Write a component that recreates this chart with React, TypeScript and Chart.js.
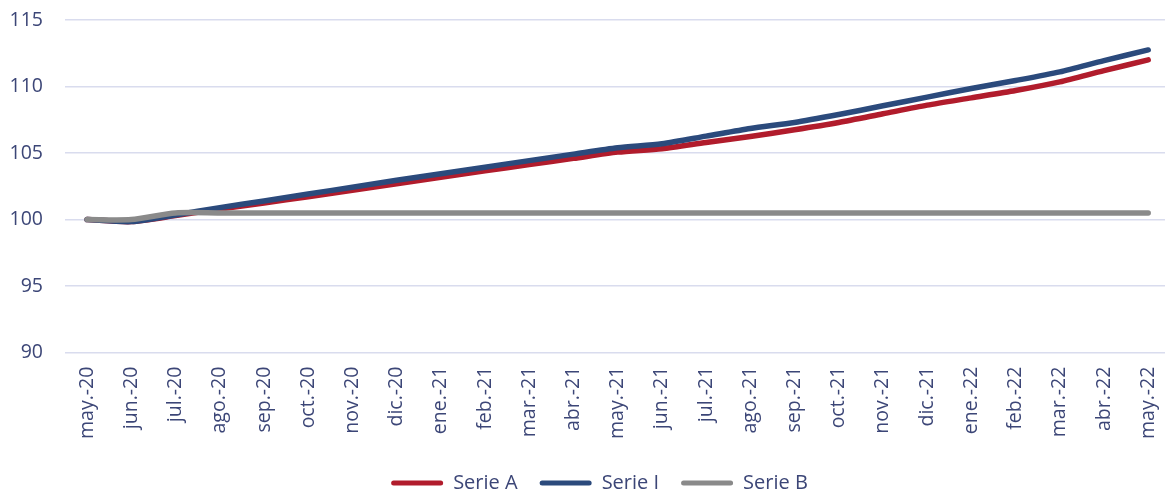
import { useEffect, useRef } from 'react';
import { Chart, registerables } from 'chart.js';

Chart.register(...registerables);

const labels = [
  'may.-20', 'jun.-20', 'jul.-20', 'ago.-20', 'sep.-20', 'oct.-20', 'nov.-20', 'dic.-20',
  'ene.-21', 'feb.-21', 'mar.-21', 'abr.-21', 'may.-21', 'jun.-21', 'jul.-21', 'ago.-21',
  'sep.-21', 'oct.-21', 'nov.-21', 'dic.-21', 'ene.-22', 'feb.-22', 'mar.-22', 'abr.-22', 'may.-22',
];

const serieA = [
  100, 99.85, 100.3, 100.8, 101.25, 101.72, 102.2, 102.7, 103.18, 103.66, 104.14, 104.6, 105.07,
  105.33, 105.8, 106.25, 106.75, 107.3, 107.95, 108.6, 109.15, 109.7, 110.35, 111.2, 112.0,
];

const serieI = [
  100, 99.85, 100.35, 100.9, 101.4, 101.92, 102.43, 102.95, 103.45, 103.94, 104.43, 104.92, 105.4,
  105.7, 106.27, 106.85, 107.3, 107.9, 108.55, 109.2, 109.85, 110.45, 111.1, 111.95, 112.75,
];

const serieB = [
  100, 100, 100.5, 100.5, 100.5, 100.5, 100.5, 100.5, 100.5, 100.5, 100.5, 100.5, 100.5,
  100.5, 100.5, 100.5, 100.5, 100.5, 100.5, 100.5, 100.5, 100.5, 100.5, 100.5, 100.5,
];

const yTicks = [90, 95, 100, 105, 110, 115];

const TEXT = '#3c4677';
const FONT = 'Open Sans';
const CLEAR = 'rgba(0,0,0,0)';

const legendShift = {
  id: 'legendShift',
  afterLayout(chart: any) {
    const l = chart.legend;
    if (!l) return;
    const dx = 17;
    l.left += dx;
    l.right += dx;
  },
};

export default function App() {
  const ref = useRef<HTMLCanvasElement>(null);

  useEffect(() => {
    if (!ref.current) return;
    const toXY = (arr: number[]) => arr.map((y, i) => ({ x: i, y }));
    const chart = new Chart(ref.current, {
      type: 'line',
      data: {
        datasets: [
          { label: 'Serie A', data: toXY(serieA), borderColor: '#b11c2c', backgroundColor: '#b11c2c', borderWidth: 5.5, order: 2 },
          { label: 'Serie I', data: toXY(serieI), borderColor: '#2b4a7c', backgroundColor: '#2b4a7c', borderWidth: 5.5, order: 1 },
          { label: 'Serie B', data: toXY(serieB), borderColor: '#8a8a8a', backgroundColor: '#8a8a8a', borderWidth: 5.5, order: 0 },
        ],
      },
      options: {
        animation: false,
        responsive: false,
        maintainAspectRatio: false,
        layout: { padding: { left: 0, top: 20, right: 0, bottom: -10 } },
        elements: {
          point: { radius: 0, hoverRadius: 0 },
          line: { tension: 0.25, borderCapStyle: 'round', borderJoinStyle: 'round' },
        },
        scales: {
          x: {
            type: 'linear',
            min: -0.5,
            max: 24.38,
            afterBuildTicks: (s: any) => {
              s.ticks = labels.map((_, i) => ({ value: i }));
            },
            afterFit: (s: any) => {
              s.height += 12;
              s.paddingLeft = 0;
              s.paddingRight = 0;
            },
            ticks: {
              callback: (v: any) => labels[v as number] ?? '',
              minRotation: 90,
              maxRotation: 90,
              autoSkip: false,
              padding: 0,
              color: TEXT,
              font: { family: FONT, size: 19.5 },
            },
            grid: {
              display: true,
              drawOnChartArea: false,
              drawTicks: true,
              tickLength: 14,
              color: CLEAR,
              tickColor: CLEAR,
            },
            border: { display: false },
          },
          y: {
            min: 90,
            max: 115,
            afterBuildTicks: (s: any) => {
              s.ticks = yTicks.map((v) => ({ value: v }));
            },
            afterFit: (s: any) => {
              s.width = 65;
            },
            ticks: {
              padding: 0,
              color: TEXT,
              font: { family: FONT, size: 19.5 },
            },
            grid: { color: '#d9dcee', lineWidth: 1.5, drawTicks: true, tickLength: 22, tickColor: CLEAR },
            border: { display: false },
          },
        },
        plugins: {
          legend: {
            position: 'bottom',
            labels: {
              boxWidth: 52,
              boxHeight: 5,
              useBorderRadius: true,
              borderRadius: 2.5,
              padding: 22,
              color: TEXT,
              font: { family: FONT, size: 20 },
              sort: (a: any, b: any) => a.datasetIndex - b.datasetIndex,
              generateLabels: (c: any) =>
                Chart.defaults.plugins.legend.labels.generateLabels(c).map((l: any) => ({ ...l, lineWidth: 0 })),
            },
          },
          tooltip: { enabled: false },
        },
      },
      plugins: [legendShift],
    });
    return () => chart.destroy();
  }, []);

  return (
    <div style={{ position: 'fixed', left: 0, top: 0, width: 1165, height: 493, background: '#fff' }}>
      <canvas ref={ref} width={1165} height={493} style={{ display: 'block', width: 1165, height: 493 }} />
    </div>
  );
}
